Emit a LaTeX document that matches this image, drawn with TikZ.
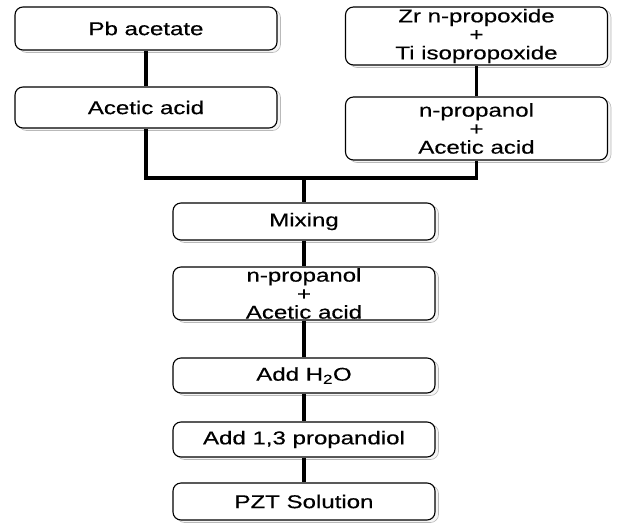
\documentclass[tikz,border=0pt]{standalone}
\usepackage{fontspec}
\newfontfamily\boxfont[FakeStretch=1.3, FakeBold=0.4]{Liberation Sans}
\usetikzlibrary{shadows}

\begin{document}
\begin{tikzpicture}[
    x=1pt, y=1pt,
    stage/.style={draw, line width=1.1pt, rounded corners=8pt, fill=white,
      minimum width=262pt, align=center, inner sep=0pt,
      font=\boxfont\fontsize{18.5}{18.5}\selectfont,
      general shadow={shadow xshift=3.5pt, shadow yshift=-2.5pt,
        draw=gray!55, fill=gray!8, line width=0.6pt}},
    link/.style={line width=3.6pt},
  ]
  \useasboundingbox (0,0) rectangle (619,-523);
  % left branch
  \node[stage, minimum height=43pt] (pb) at (146,-28.5) {Pb acetate};
  \node[stage, minimum height=41pt] (acetic) at (146,-107.5) {Acetic acid};
  % right branch
  \node[stage, minimum height=58pt] (zrti) at (476.5,-36) {Zr n-propoxide\\+\\Ti isopropoxide};
  \node[stage, minimum height=63pt] (propA) at (476.5,-128.5) {n-propanol\\+\\Acetic acid};
  % main line
  \coordinate (join) at (304,-178);
  \node[stage, minimum height=37pt] (mixing) at (304,-221.5) {Mixing};
  \node[stage, minimum height=53pt] (propB) at (304,-293.5) {n-propanol\\+\\Acetic acid};
  \node[stage, minimum height=35pt] (water) at (304,-375.5) {Add H\textsubscript{2}O};
  \node[stage, minimum height=35pt] (diol) at (304,-439.5) {Add 1,3 propandiol};
  \node[stage, minimum height=37pt] (pzt) at (304,-501.5) {PZT Solution};

  \draw[link] (pb) -- (acetic);
  \draw[link] (zrti) -- (propA);
  \draw[link] (acetic.south) |- (propA.south |- join) -- (propA.south);
  \draw[link] (join) -- (mixing);
  \draw[link] (mixing) -- (propB);
  \draw[link] (propB) -- (water);
  \draw[link] (water) -- (diol);
  \draw[link] (diol) -- (pzt);
\end{tikzpicture}
\end{document}
